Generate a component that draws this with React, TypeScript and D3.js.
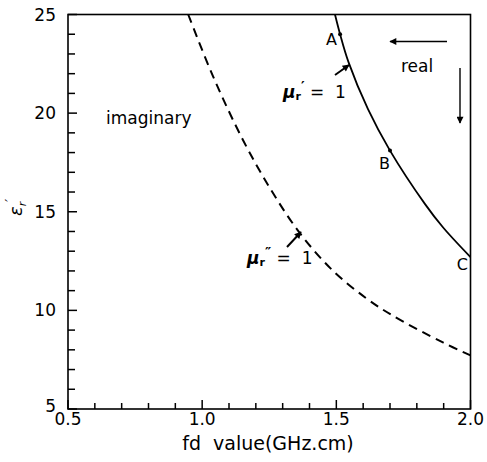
import React, { useEffect, useRef } from "react";
import * as d3 from "d3";

// fd value (GHz.cm) vs eps_r'
const realFd = [1.495, 1.514, 1.545, 1.618, 1.7, 1.83, 1.898, 2.0];
const realEps = [25, 24.0, 22.6, 20.2, 18.1, 15.4, 14.2, 12.7];

const imagFd = [0.948, 1.041, 1.152, 1.257, 1.365, 1.488, 1.613, 1.712, 1.899, 2.0];
const imagEps = [25, 21.85, 18.64, 16.1, 13.9, 12.0, 10.6, 9.72, 8.36, 7.72];

const xTickLabels = ["0.5", "1.0", "1.5", "2.0"];
const yTickLabels = ["5", "10", "15", "20", "25"];

// marked points on the real curve
const markNames = ["A", "B", "C"];
const markFd = [1.514, 1.7, 2.0];
const markEps = [24.0, 18.1, 12.7];

const W = 487;
const H = 462;

const App: React.FC = () => {
  const svgRef = useRef<SVGSVGElement | null>(null);

  useEffect(() => {
    const svg = d3.select(svgRef.current);
    svg.selectAll("*").remove();

    const font = "'DejaVu Sans', sans-serif";
    const x = d3.scaleLinear().domain([0.5, 2.0]).range([68, 470.5]);
    const y = d3.scaleLinear().domain([5, 25]).range([409, 14.5]);

    const defs = svg.append("defs");
    defs
      .append("marker")
      .attr("id", "head")
      .attr("viewBox", "0 0 10 10")
      .attr("refX", 9)
      .attr("refY", 5)
      .attr("markerWidth", 9)
      .attr("markerHeight", 7)
      .attr("markerUnits", "userSpaceOnUse")
      .attr("orient", "auto")
      .append("path")
      .attr("d", "M0,0L10,5L0,10z")
      .attr("fill", "#000");

    // frame
    svg
      .append("rect")
      .attr("x", x(0.5))
      .attr("y", y(25))
      .attr("width", x(2.0) - x(0.5))
      .attr("height", y(5) - y(25))
      .attr("fill", "none")
      .attr("stroke", "#000")
      .attr("stroke-width", 1.6);

    // inward ticks, bottom
    const xt = d3.range(0.5, 2.0001, 0.1);
    svg
      .append("g")
      .selectAll("line")
      .data(xt)
      .enter()
      .append("line")
      .attr("x1", (d) => x(d))
      .attr("x2", (d) => x(d))
      .attr("y1", y(5))
      .attr("y2", (d, i) => y(5) - (i % 5 === 0 ? 9 : 6))
      .attr("stroke", "#000")
      .attr("stroke-width", 1.5);

    // inward ticks, left
    const yt = d3.range(5, 25.001, 1);
    svg
      .append("g")
      .selectAll("line")
      .data(yt)
      .enter()
      .append("line")
      .attr("x1", x(0.5))
      .attr("x2", (d, i) => x(0.5) + (i % 5 === 0 ? 9 : 7))
      .attr("y1", (d) => y(d))
      .attr("y2", (d) => y(d))
      .attr("stroke", "#000")
      .attr("stroke-width", 1.5);

    svg
      .append("g")
      .selectAll("text")
      .data(xTickLabels)
      .enter()
      .append("text")
      .attr("x", (d) => x(+d))
      .attr("y", 425)
      .attr("text-anchor", "middle")
      .attr("font-family", font)
      .attr("font-size", 17)
      .text((d) => d);

    svg
      .append("g")
      .selectAll("text")
      .data(yTickLabels)
      .enter()
      .append("text")
      .attr("x", 56)
      .attr("y", (d) => y(+d) + (d === "5" ? 3 : 6))
      .attr("text-anchor", "end")
      .attr("font-family", font)
      .attr("font-size", 17)
      .text((d) => d);

    svg
      .append("text")
      .attr("x", 268)
      .attr("y", 450)
      .attr("text-anchor", "middle")
      .attr("font-family", font)
      .attr("font-size", 19)
      .attr("xml:space", "preserve")
      .text("fd  value(GHz.cm)");

    // y title: eps_r'
    const yt2 = svg
      .append("text")
      .attr("transform", "translate(22,216) rotate(-90)")
      .attr("font-family", font)
      .attr("font-size", 18)
      .attr("font-style", "italic");
    yt2.append("tspan").text("ε");
    yt2.append("tspan").attr("font-size", 11).attr("dy", 4).text("r");
    yt2.append("tspan").attr("font-size", 13).attr("dy", -12).text("′");

    const line = d3
      .line<number>()
      .x((d) => x(d))
      .curve(d3.curveCatmullRom.alpha(0.5));

    svg
      .append("path")
      .attr("d", line.y((d, i) => y(realEps[i]))(realFd))
      .attr("fill", "none")
      .attr("stroke", "#000")
      .attr("stroke-width", 1.8);

    svg
      .append("path")
      .attr("d", line.y((d, i) => y(imagEps[i]))(imagFd))
      .attr("fill", "none")
      .attr("stroke", "#000")
      .attr("stroke-width", 2)
      .attr("stroke-dasharray", "9,6");

    svg
      .append("g")
      .selectAll("circle")
      .data(markFd.slice(0, 2))
      .enter()
      .append("circle")
      .attr("cx", (d) => x(d))
      .attr("cy", (d, i) => y(markEps[i]))
      .attr("r", 2)
      .attr("fill", "#000");

    const markPos = [
      [337, 45],
      [390, 169],
      [468, 270],
    ];
    svg
      .append("g")
      .selectAll("text")
      .data(markNames)
      .enter()
      .append("text")
      .attr("x", (d, i) => markPos[i][0])
      .attr("y", (d, i) => markPos[i][1])
      .attr("text-anchor", "end")
      .attr("font-family", font)
      .attr("font-size", 16)
      .text((d) => d);

    const label = (tx: number, ty: number, s: string) =>
      svg
        .append("text")
        .attr("x", tx)
        .attr("y", ty)
        .attr("font-family", font)
        .attr("font-size", 17)
        .text(s);

    label(106, 124, "imaginary");
    label(401, 72, "real");

    const mu = (tx: number, ty: number, primes: string) => {
      const t = svg
        .append("text")
        .attr("x", tx)
        .attr("y", ty)
        .attr("font-family", font)
        .attr("font-size", 17)
        .attr("font-weight", "bold")
        .attr("xml:space", "preserve");
      t.append("tspan").attr("font-style", "italic").text("μ");
      t.append("tspan").attr("font-size", 11).attr("dy", 2).text("r");
      t.append("tspan").attr("font-size", 14).attr("dy", -9).text(primes);
      t.append("tspan").attr("dy", 7).attr("font-weight", "normal").text(" =  1");
    };
    mu(283, 98, "′");
    mu(247, 264, "″");

    const arrow = (x1: number, y1: number, x2: number, y2: number, w: number) =>
      svg
        .append("line")
        .attr("x1", x1)
        .attr("y1", y1)
        .attr("x2", x2)
        .attr("y2", y2)
        .attr("stroke", "#000")
        .attr("stroke-width", w)
        .attr("marker-end", "url(#head)");

    arrow(447, 41.5, 390, 41.5, 1.4);
    arrow(460, 68, 460, 123, 1.4);
    arrow(335, 75, 349, 65, 2);
    arrow(287, 247, 301, 232, 2);
  }, []);

  return (
    <svg
      ref={svgRef}
      width={W}
      height={H}
      style={{ position: "absolute", left: 0, top: 0, background: "#fff" }}
    ></svg>
  );
};

export default App;
